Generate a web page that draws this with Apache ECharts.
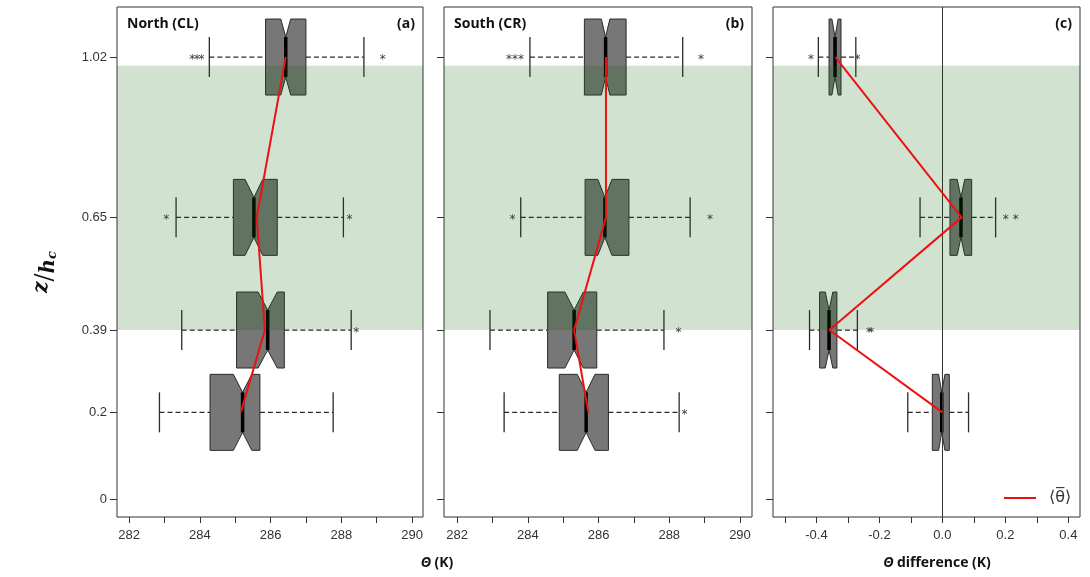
<!DOCTYPE html>
<html>
<head>
<meta charset="utf-8">
<script src="https://cdn.jsdelivr.net/npm/echarts@6/dist/echarts.min.js"></script>
<style>
html,body{margin:0;padding:0;background:#fff;}
#chart{width:1090px;height:577px;}
</style>
</head>
<body>
<div id="chart"></div>
<script>
let levels = [0.2, 0.39, 0.65, 1.02];
let levelTicks = [0, 0.2, 0.39, 0.65, 1.02];
let canopyBand = [0.39, 1.0];
let thetaTicks = [282, 283, 284, 285, 286, 287, 288, 289, 290];
let thetaLabels = [282, 284, 286, 288, 290];
let diffTicks = [-0.5, -0.4, -0.3, -0.2, -0.1, 0, 0.1, 0.2, 0.3, 0.4];
let diffLabels = [-0.4, -0.2, 0, 0.2, 0.4];

// [lower whisker, Q1, median, Q3, upper whisker] for each level
let northBox = [
    [282.86, 284.29, 285.21, 285.70, 287.77],
    [283.49, 285.04, 285.92, 286.39, 288.28],
    [283.33, 284.95, 285.53, 286.19, 288.06],
    [284.27, 285.86, 286.43, 287.00, 288.64]
];
let northNotch = [0.26, 0.27, 0.25, 0.14];
let northMean = [285.16, 285.84, 285.61, 286.43];
let northOutliers = [[0.39, 288.42], [0.65, 283.05], [0.65, 288.23],
    [1.02, 283.79], [1.02, 283.92], [1.02, 284.05], [1.02, 289.17]];

let southBox = [
    [283.33, 284.89, 285.65, 286.28, 288.28],
    [282.93, 284.56, 285.31, 285.95, 287.85],
    [283.80, 285.62, 286.18, 286.86, 288.59],
    [284.06, 285.60, 286.20, 286.78, 288.38]
];
let southNotch = [0.25, 0.26, 0.2, 0.12];
let southMean = [285.71, 285.31, 286.21, 286.21];
let southOutliers = [[0.2, 288.43], [0.39, 288.26], [0.65, 283.57], [0.65, 289.15],
    [1.02, 283.47], [1.02, 283.64], [1.02, 283.81], [1.02, 288.9]];

let diffBox = [
    [-0.11, -0.032, -0.002, 0.022, 0.083],
    [-0.422, -0.390, -0.360, -0.335, -0.270],
    [-0.071, 0.024, 0.059, 0.093, 0.169],
    [-0.394, -0.360, -0.341, -0.322, -0.275]
];
let diffNotch = [0.01, 0.012, 0.012, 0.01];
let diffMean = [0.0, -0.359, 0.061, -0.34];
let diffOutliers = [[0.39, -0.233], [0.39, -0.226], [0.65, 0.201], [0.65, 0.233],
    [1.02, -0.417], [1.02, -0.27]];

let meanName = '\u27E8\u03B8\u0305\u27E9';
let dark = '#333';
let labelFont = 'Liberation Sans';

function boxData(box, notch){
    return box.map((b, i) => [levels[i]].concat(b, notch[i]));
}
function meanData(mean){
    return mean.map((m, i) => [m, levels[i]]);
}

function renderBox(params, api){
    let y = api.value(0);
    let px = n => api.coord([n, y])[0];
    let lo = px(api.value(1)), q1 = px(api.value(2)), md = px(api.value(3));
    let q3 = px(api.value(4)), hi = px(api.value(5));
    let nl = px(api.value(3) - api.value(6)), nr = px(api.value(3) + api.value(6));
    let cy = api.coord([api.value(3), y])[1];
    let h = 38, d = 18, c = 20;
    let dash = {stroke: '#2b2b2b', lineWidth: 1.3, lineDash: [5, 3]};
    let solid = {stroke: '#2b2b2b', lineWidth: 1.3};
    return {
        type: 'group',
        children: [
            {type: 'line', shape: {x1: lo, y1: cy, x2: q1, y2: cy}, style: dash},
            {type: 'line', shape: {x1: q3, y1: cy, x2: hi, y2: cy}, style: dash},
            {type: 'line', shape: {x1: lo, y1: cy - c, x2: lo, y2: cy + c}, style: solid},
            {type: 'line', shape: {x1: hi, y1: cy - c, x2: hi, y2: cy + c}, style: solid},
            {
                type: 'polygon',
                shape: {points: [
                    [q1, cy - h], [nl, cy - h], [md, cy - h + d], [nr, cy - h], [q3, cy - h],
                    [q3, cy + h], [nr, cy + h], [md, cy + h - d], [nl, cy + h], [q1, cy + h]
                ]},
                style: {fill: '#777777', stroke: '#2b2b2b', lineWidth: 1}
            },
            {type: 'line', shape: {x1: md, y1: cy - h + d, x2: md, y2: cy + h - d},
                style: {stroke: '#000', lineWidth: 3.5}}
        ]
    };
}

function renderStar(params, api){
    let pt = api.coord([api.value(1), api.value(0)]);
    return {
        type: 'text',
        x: pt[0], y: pt[1] + 3,
        style: {text: '*', fill: '#3a3a3a', font: '12px "DejaVu Sans"', align: 'center', verticalAlign: 'middle'}
    };
}

function renderBand(params, api){
    let cs = params.coordSys;
    let y0 = api.coord([0, api.value(0)])[1];
    let y1 = api.coord([0, api.value(1)])[1];
    return {
        type: 'rect',
        shape: {x: cs.x, y: y1, width: cs.width, height: y0 - y1},
        style: {fill: 'rgba(8,102,3,0.19)'}
    };
}

function panelSeries(i, box, notch, mean, outliers){
    let s = [
        {type: 'custom', xAxisIndex: i, yAxisIndex: i, renderItem: renderBox,
            data: boxData(box, notch), encode: {x: [1, 2, 3, 4, 5], y: 0}, z: 2, silent: true},
        {type: 'custom', xAxisIndex: i, yAxisIndex: i, renderItem: renderStar,
            data: outliers, encode: {x: 1, y: 0}, z: 3, silent: true},
        {type: 'custom', xAxisIndex: i, yAxisIndex: i, renderItem: renderBand,
            data: [canopyBand], encode: {x: 0, y: [0, 1]}, z: 5, silent: true},
        {type: 'line', name: meanName, xAxisIndex: i, yAxisIndex: i, data: meanData(mean),
            symbol: 'none', lineStyle: {color: '#ee1111', width: 2}, itemStyle: {color: '#ee1111'}, z: 10}
    ];
    if(i === 2){
        s[0].markLine = {
            silent: true, symbol: ['none', 'none'],
            label: {show: false},
            lineStyle: {color: dark, width: 1, type: 'solid'},
            data: [{xAxis: 0}]
        };
    }
    return s;
}

function xAxis(i, min, max, ticks, labels, fmt){
    return {
        type: 'value', gridIndex: i, min: min, max: max,
        splitLine: {show: false},
        axisLine: {show: false, onZero: false},
        axisTick: {show: true, length: 6, customValues: ticks, lineStyle: {color: dark}},
        axisLabel: {show: true, customValues: labels, margin: 12, color: '#333',
            fontFamily: labelFont, fontSize: 13, formatter: fmt}
    };
}
function yAxis(i, showLabels){
    return {
        type: 'value', gridIndex: i, min: -0.0415, max: 1.1355,
        splitLine: {show: false},
        axisLine: {show: false, onZero: false},
        axisTick: {show: true, length: 7, customValues: levelTicks, lineStyle: {color: dark}},
        axisLabel: {show: showLabels, customValues: levelTicks, margin: 10, color: '#333',
            fontFamily: labelFont, fontSize: 13, formatter: v => String(v)}
    };
}

let gridBase = {top: 7, height: 510, show: true, borderColor: dark, borderWidth: 1, backgroundColor: 'transparent'};
let titleFont = {fontFamily: 'Open Sans', fontWeight: 'bold', fontSize: 14, fill: '#111'};

function label(text, x, y, align){
    return {type: 'text', x: x, y: y, z: 20,
        style: Object.assign({text: text, align: align, verticalAlign: 'middle'}, titleFont)};
}

let myChart = echarts.init(document.getElementById('chart'));
let option = {
    animation: false,
    grid: [
        Object.assign({left: 117, width: 306}, gridBase),
        Object.assign({left: 444, width: 308}, gridBase),
        Object.assign({left: 773, width: 307}, gridBase)
    ],
    xAxis: [
        xAxis(0, 281.66, 290.31, thetaTicks, thetaLabels, v => String(v)),
        xAxis(1, 281.63, 290.34, thetaTicks, thetaLabels, v => String(v)),
        xAxis(2, -0.538, 0.437, diffTicks, diffLabels, v => v.toFixed(1))
    ],
    yAxis: [yAxis(0, true), yAxis(1, false), yAxis(2, false)],
    legend: {
        data: [meanName],
        left: 999, top: 485,
        icon: 'rect',
        itemWidth: 32, itemHeight: 2,
        textStyle: {fontFamily: 'DejaVu Sans', fontSize: 16, color: '#333', padding: [0, 0, 0, 8]}
    },
    graphic: [
        label('North (CL)', 127, 24, 'left'),
        label('(a)', 415, 24, 'right'),
        label('South (CR)', 454, 24, 'left'),
        label('(b)', 744, 24, 'right'),
        label('(c)', 1072, 24, 'right'),
        {
            type: 'text', x: 437, y: 563, z: 20,
            style: {
                text: '{t|\u0398} {n|(K)}', align: 'center', verticalAlign: 'middle',
                rich: {
                    t: {fontFamily: 'Open Sans', fontWeight: 'bold', fontStyle: 'italic', fontSize: 14, fill: '#111'},
                    n: {fontFamily: 'Open Sans', fontWeight: 'bold', fontSize: 14, fill: '#111'}
                }
            }
        },
        {
            type: 'text', x: 937, y: 563, z: 20,
            style: {
                text: '{t|\u0398} {n|difference (K)}', align: 'center', verticalAlign: 'middle',
                rich: {
                    t: {fontFamily: 'Open Sans', fontWeight: 'bold', fontStyle: 'italic', fontSize: 14, fill: '#111'},
                    n: {fontFamily: 'Open Sans', fontWeight: 'bold', fontSize: 14, fill: '#111'}
                }
            }
        },
        {
            type: 'text', x: 46, y: 272, rotation: Math.PI / 2, z: 20,
            style: {
                text: '{z|z}{s|/}{h|h}{c|c}', align: 'center', verticalAlign: 'middle',
                rich: {
                    z: {fontFamily: 'DejaVu Serif', fontWeight: 'bold', fontStyle: 'italic', fontSize: 20, fill: '#111', padding: [0, 0, 8, 0]},
                    s: {fontFamily: 'DejaVu Serif', fontSize: 24, fill: '#111'},
                    h: {fontFamily: 'DejaVu Serif', fontWeight: 'bold', fontStyle: 'italic', fontSize: 20, fill: '#111', padding: [6, 0, 0, 0]},
                    c: {fontFamily: 'DejaVu Serif', fontWeight: 'bold', fontStyle: 'italic', fontSize: 13, fill: '#111', padding: [14, 0, 0, 0]}
                }
            }
        }
    ],
    series: [].concat(
        panelSeries(0, northBox, northNotch, northMean, northOutliers),
        panelSeries(1, southBox, southNotch, southMean, southOutliers),
        panelSeries(2, diffBox, diffNotch, diffMean, diffOutliers)
    )
};
myChart.setOption(option);
</script>
</body>
</html>
